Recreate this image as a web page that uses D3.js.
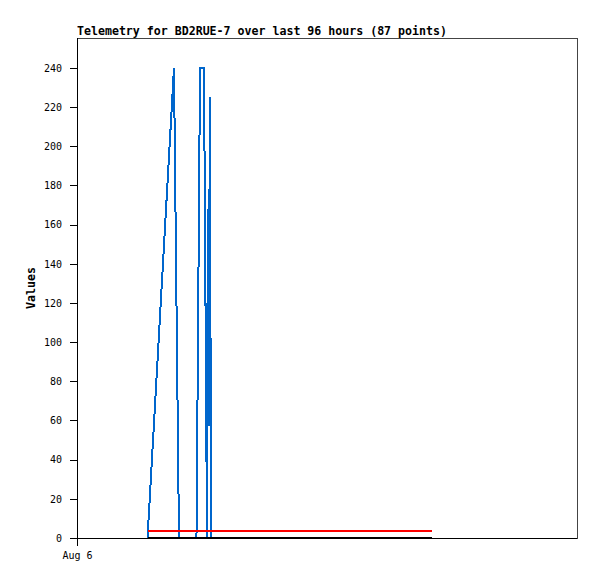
<!DOCTYPE html>
<html>
<head>
<meta charset="utf-8">
<script src="https://cdn.jsdelivr.net/npm/d3@7/dist/d3.min.js"></script>
<style>
  html, body { margin: 0; padding: 0; background: #fff; }
  svg { display: block; }
</style>
</head>
<body>
<script>
// ---- data (hours since Aug 6 00:00) ----
const titleText = "Telemetry for BD2RUE-7 over last 96 hours (87 points)";
const yLabel = "Values";
const startDate = new Date(2024, 7, 6, 0, 0, 0);
const spanHours = 96;
const xTickHours = [0];
const xTickLabels = ["Aug 6"];
const yTicks = [0, 20, 40, 60, 80, 100, 120, 140, 160, 180, 200, 220, 240];

const blueHours  = [13.54, 18.62, 19.58, 22.94, 23.62, 24.38, 24.96, 25.10, 25.20, 25.30, 25.38, 25.47, 25.77];
const blueValues = [0,     240,   0,     0,     240,   240,   0,     168,   57,    168,   57,    225,   0];

const redHours  = [13.63, 20.0, 30.0, 40.0, 50.0, 60.0, 68.16];
const redValues = [3.7,   3.7,  3.7,  3.7,  3.7,  3.7,  3.7];

const blackHours  = [13.63, 20.0, 30.0, 40.0, 50.0, 60.0, 68.16];
const blackValues = [0,     0,    0,    0,    0,    0,    0];

// ---- chart ----
const W = 597, H = 579;
const L = 77, R = 577, T = 38, B = 538;
const toDate = h => new Date(startDate.getTime() + h * 3600 * 1000);

const svg = d3.select("body").append("svg").attr("width", W).attr("height", H);
svg.append("rect").attr("width", W).attr("height", H).attr("fill", "#fff");

const x = d3.scaleTime().domain([startDate, toDate(spanHours)]).range([L, R]);
const y = d3.scaleLinear().domain([0, 255.3]).range([B, T]);

// frame
svg.append("rect").attr("x", L + 0.5).attr("y", T + 0.5).attr("width", R - L).attr("height", B - T)
  .attr("fill", "none").attr("stroke", "#444").attr("stroke-width", 1)
  .attr("shape-rendering", "crispEdges");

const line = d3.line().x(d => x(toDate(d[0]))).y(d => y(d[1]));
function drawSeries(hrs, vals, color) {
  svg.append("path").datum(hrs.map((h, i) => [h, vals[i]]))
    .attr("d", line).attr("fill", "none").attr("stroke", color)
    .attr("stroke-width", 2).attr("stroke-linejoin", "bevel")
    .attr("shape-rendering", "crispEdges");
}
drawSeries(blueHours, blueValues, "#0066cc");
drawSeries(redHours, redValues, "#ff0000");
drawSeries(blackHours, blackValues, "#000000");

// y axis
const yAxis = d3.axisLeft(y).tickValues(yTicks).tickSize(7).tickPadding(8).tickFormat(d3.format("d"));
const gy = svg.append("g").attr("transform", `translate(${L},0)`).call(yAxis);
gy.select(".domain").remove();
gy.selectAll(".tick line").attr("stroke", "#000").attr("shape-rendering", "crispEdges");
gy.selectAll(".tick text").attr("font-family", "DejaVu Sans Mono, monospace").attr("font-size", 10).attr("fill", "#000");
svg.append("line").attr("x1", L + 0.5).attr("x2", L + 0.5).attr("y1", T).attr("y2", B)
  .attr("stroke", "#000").attr("stroke-width", 1).attr("shape-rendering", "crispEdges");

// x axis
const xAxis = d3.axisBottom(x).tickValues(xTickHours.map(toDate)).tickSize(8).tickPadding(6)
  .tickFormat((d, i) => xTickLabels[i]);
const gx = svg.append("g").attr("transform", `translate(0,${B})`).call(xAxis);
gx.select(".domain").remove();
gx.selectAll(".tick line").attr("stroke", "#000").attr("shape-rendering", "crispEdges");
gx.selectAll(".tick text").attr("font-family", "DejaVu Sans Mono, monospace").attr("font-size", 10).attr("fill", "#000");
svg.append("line").attr("x1", L).attr("x2", R).attr("y1", B + 0.5).attr("y2", B + 0.5)
  .attr("stroke", "#000").attr("stroke-width", 1).attr("shape-rendering", "crispEdges");

// title
svg.append("text").attr("x", L).attr("y", 35).text(titleText)
  .attr("font-family", "DejaVu Sans Mono, monospace").attr("font-weight", "bold").attr("font-size", 11.6);

// y label
svg.append("text").attr("transform", `translate(35,${(T + B) / 2}) rotate(-90)`)
  .attr("text-anchor", "middle").text(yLabel)
  .attr("font-family", "DejaVu Sans Mono, monospace").attr("font-weight", "bold").attr("font-size", 11.6);
</script>
</body>
</html>
